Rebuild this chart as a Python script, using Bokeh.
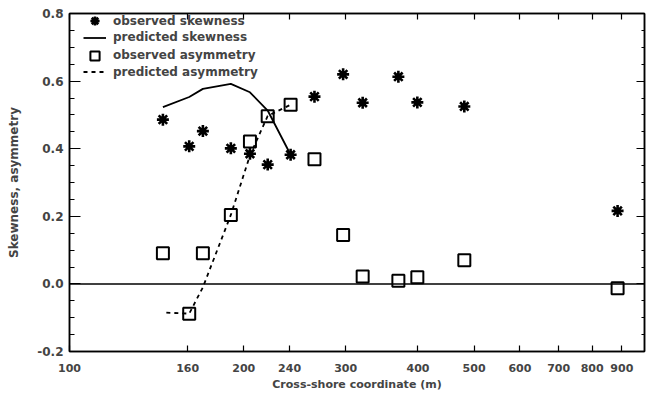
from bokeh.plotting import figure
from bokeh.models import (FixedTicker, LogAxis, LinearAxis, NumeralTickFormatter,
                          Span, Legend, LegendItem, ColumnDataSource)
from bokeh.embed import file_html
from bokeh.resources import INLINE

# Cross-shore positions of the instruments (m) and observed moments
obs_x = [145, 161, 170, 190, 205, 220, 241, 265, 297, 321, 370, 399, 481, 885]
obs_skewness = [0.486, 0.407, 0.452, 0.401, 0.385, 0.353, 0.382, 0.554, 0.620,
                0.536, 0.613, 0.537, 0.525, 0.216]
obs_asymmetry = [0.091, -0.088, 0.091, 0.204, 0.421, 0.496, 0.530, 0.369, 0.145,
                 0.022, 0.009, 0.020, 0.070, -0.013]

# Model predictions
pred_skew_x = [145, 161, 170, 190, 205, 220, 241]
pred_skewness = [0.523, 0.553, 0.577, 0.592, 0.567, 0.513, 0.382]
pred_asym_x = [147, 161, 170, 190, 205, 220, 241]
pred_asymmetry = [-0.085, -0.088, -0.010, 0.204, 0.380, 0.497, 0.530]

x_ticks = [100, 160, 200, 240, 300, 400, 500, 600, 700, 800, 900]
y_ticks = [-0.2, 0.0, 0.2, 0.4, 0.6, 0.8]
y_minor = [-0.15, -0.1, -0.05, 0.05, 0.1, 0.15, 0.25, 0.3, 0.35,
           0.45, 0.5, 0.55, 0.65, 0.7, 0.75]

FONT = "DejaVu Sans"

p = figure(width=646, height=396, x_axis_type="log", x_range=(100, 985),
           y_range=(-0.2, 0.8), output_backend="svg", toolbar_location=None,
           min_border_left=69, min_border_right=2, min_border_top=13,
           min_border_bottom=45)
p.xgrid.visible = False
p.ygrid.visible = False
p.outline_line_color = "black"
p.outline_line_width = 1.5
p.background_fill_color = "white"
p.border_fill_color = "white"

xt = FixedTicker(ticks=x_ticks, minor_ticks=[])
yt = FixedTicker(ticks=y_ticks, minor_ticks=y_minor)

# bottom axis
xa = p.xaxis[0]
xa.ticker = xt
xa.formatter = NumeralTickFormatter(format="0")
xa.major_tick_in = 6
xa.major_tick_out = 0
xa.minor_tick_in = 0
xa.minor_tick_out = 0
xa.axis_line_width = 1.5
xa.major_tick_line_width = 1.2
xa.major_label_standoff = 12
xa.major_label_text_font = FONT
xa.major_label_text_font_style = "bold"
xa.major_label_text_font_size = "11px"
xa.axis_label = "Cross-shore coordinate (m)"
xa.axis_label_text_font = FONT
xa.axis_label_text_font_style = "bold"
xa.axis_label_text_font_size = "11px"
xa.axis_label_standoff = 3

# left axis
ya = p.yaxis[0]
ya.ticker = yt
ya.formatter = NumeralTickFormatter(format="0.0")
ya.major_tick_in = 11
ya.major_tick_out = 0
ya.minor_tick_in = 5
ya.minor_tick_out = 0
ya.axis_line_width = 1.5
ya.major_tick_line_width = 1.2
ya.minor_tick_line_width = 1.2
ya.major_label_standoff = 6
ya.major_label_text_font = FONT
ya.major_label_text_font_style = "bold"
ya.major_label_text_font_size = "12px"
ya.axis_label = "Skewness, asymmetry"
ya.axis_label_text_font = FONT
ya.axis_label_text_font_style = "bold"
ya.axis_label_text_font_size = "12px"
ya.axis_label_standoff = 13

# top and right axes: ticks only, labels switched off
top = LogAxis(ticker=xt, major_tick_in=6, major_tick_out=0, minor_tick_in=0,
              minor_tick_out=0, major_label_text_color=None,
              major_label_text_font_size="1px",
              major_label_standoff=0, axis_line_width=1.5,
              major_tick_line_width=1.2)
right = LinearAxis(ticker=yt, major_tick_in=8, major_tick_out=0, minor_tick_in=3,
                   minor_tick_out=0, major_label_text_color=None,
                   major_label_text_font_size="1px",
                   major_label_standoff=0, axis_line_width=1.5,
                   major_tick_line_width=1.2, minor_tick_line_width=1.2)
p.add_layout(top, "above")
p.add_layout(right, "right")

# zero reference line
p.add_layout(Span(location=0, dimension="width", line_color="black", line_width=1.5))

obs = ColumnDataSource(dict(x=obs_x, skew=obs_skewness, asym=obs_asymmetry))

r_pskew = p.line(pred_skew_x, pred_skewness, line_color="black", line_width=1.8)
r_pasym = p.line(pred_asym_x, pred_asymmetry, line_color="black", line_width=1.8,
                 line_dash="4 4")
r_oskew = p.scatter("x", "skew", source=obs, marker="asterisk", size=12,
                    line_color="black", line_width=2.6)
r_oasym = p.scatter("x", "asym", source=obs, marker="square", size=12,
                    fill_color=None, line_color="black", line_width=2)

# one single-row legend per entry, so the rows can sit closer together
# than the (tall) glyph boxes that give full-size legend markers
entries = [("observed skewness", r_oskew, 317.8),
           ("predicted skewness", r_pskew, 301.2),
           ("observed asymmetry", r_oasym, 283.5),
           ("predicted asymmetry", r_pasym, 266.8)]
for label, renderer, y_off in entries:
    lg = Legend(items=[LegendItem(label=label, renderers=[renderer])],
                location=(14, y_off))
    lg.border_line_color = None
    lg.background_fill_alpha = 0
    lg.label_text_font = FONT
    lg.label_text_font_style = "bold"
    lg.label_text_font_size = "12px"
    lg.glyph_width = 23
    lg.glyph_height = 25
    lg.label_height = 25
    lg.spacing = 0
    lg.padding = 0
    lg.margin = 0
    lg.label_standoff = 7
    p.add_layout(lg, "center")

open("out.html", "w").write(file_html(p, INLINE))
